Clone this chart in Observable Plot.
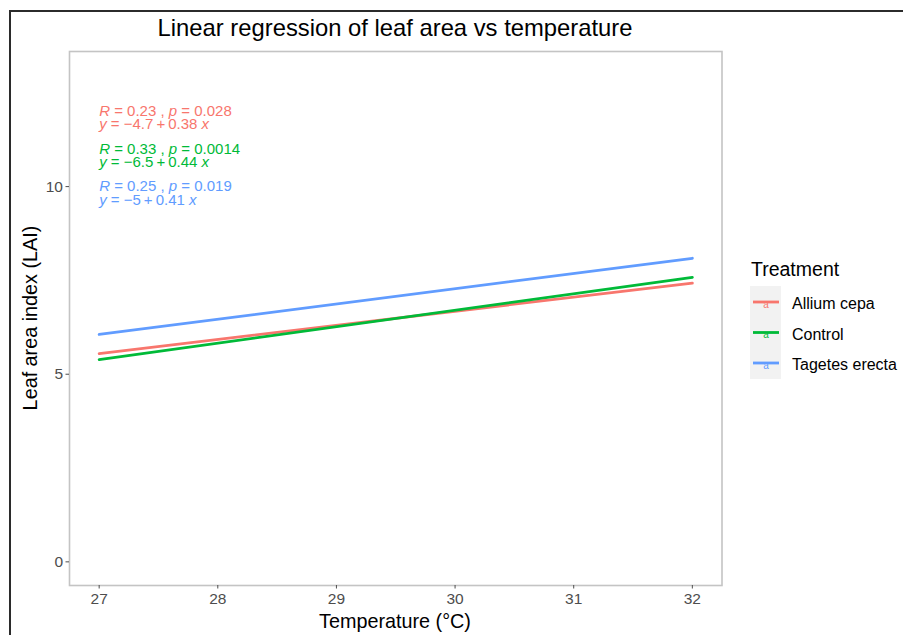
<!DOCTYPE html>
<html><head><meta charset="utf-8">
<script src="https://cdn.jsdelivr.net/npm/d3@7"></script>
<script src="https://cdn.jsdelivr.net/npm/@observablehq/plot@0.6"></script>
<style>
body{margin:0;background:#fff;font-family:"Liberation Sans",Arial,sans-serif;}
#wrap{position:relative;width:903px;height:635px;overflow:hidden;background:#fff;}
#outer{position:absolute;left:9px;top:10px;right:-10px;bottom:-10px;border-top:2px solid #2b2b2b;border-left:2px solid #2b2b2b;}
.t{position:absolute;white-space:nowrap;color:#000;line-height:1;}
#plot{position:absolute;left:0;top:0;}
</style></head><body>
<div id="wrap"><div id="outer"></div><div id="plot"></div></div>
<script>
// ---- data ----
const treatments = ["Allium cepa", "Control", "Tagetes erecta"];
const colors = ["#F8766D", "#00BA38", "#619CFF"];
const temperature = [27, 32];
const alliumLAI = [5.55, 7.43];
const controlLAI = [5.39, 7.58];
const tagetesLAI = [6.06, 8.09];
const xTicks = [27, 28, 29, 30, 31, 32];
const yTicks = [0, 5, 10];
const corLabels = ["R = 0.23 , p = 0.028", "R = 0.33 , p = 0.0014", "R = 0.25 , p = 0.019"];
const eqLabels = ["y = \u22124.7\u2009+\u20090.38 x", "y = \u22126.5\u2009+\u20090.44 x", "y = \u22125\u2009+\u20090.41 x"];
const labelX = 27;
const corLabelY = [12, 11, 10];
const eqLabelY = [11.65, 10.65, 9.65];
const titleText = "Linear regression of leaf area vs temperature";
const xTitle = "Temperature (\u00B0C)";
const yTitle = "Leaf area index (LAI)";
const legendTitle = "Treatment";

// ---- build tables ----
const series = [alliumLAI, controlLAI, tagetesLAI];
const lineData = treatments.flatMap((t, i) => temperature.map((x, j) => ({treatment: t, temperature: x, lai: series[i][j]})));
const annot = treatments.flatMap((t, i) => [
  {treatment: t, x: labelX, y: corLabelY[i], label: corLabels[i]},
  {treatment: t, x: labelX, y: eqLabelY[i], label: eqLabels[i]}
]);

const FONT = "'Liberation Sans', Arial, sans-serif";
const plot = Plot.plot({
  width: 903, height: 635,
  marginLeft: 69, marginTop: 51, marginRight: 181.5, marginBottom: 50,
  style: {background: "transparent", fontFamily: FONT, overflow: "visible"},
  x: {domain: [26.75, 32.25]},
  y: {domain: [-0.63, 13.6]},
  color: {domain: treatments, range: colors},
  marks: [
    Plot.frame({stroke: "#c4c4c4", strokeWidth: 1.6}),
    Plot.axisX({ticks: xTicks, tickFormat: d => String(d), tickSize: 3.5, tickPadding: 4, label: null, fontSize: 15.5, color: "#4d4d4d"}),
    Plot.axisY({ticks: yTicks, tickFormat: d => String(d), tickSize: 3.5, tickPadding: 3, label: null, fontSize: 15.5, color: "#4d4d4d"}),
    Plot.line(lineData, {x: "temperature", y: "lai", stroke: "treatment", z: "treatment", strokeWidth: 2.8}),
    Plot.text(annot, {x: "x", y: "y", text: "label", fill: "treatment", textAnchor: "start", fontSize: 15})
  ]
});
document.getElementById("plot").appendChild(plot);

// italic variable names in the annotation labels
plot.querySelectorAll('g[aria-label="text"] text').forEach(el => {
  const tokens = el.textContent.split(" ");
  el.textContent = "";
  el.style.whiteSpace = "pre";
  tokens.forEach((tok, k) => {
    const ts = document.createElementNS("http://www.w3.org/2000/svg", "tspan");
    ts.textContent = tok + (k < tokens.length - 1 ? " " : "");
    if (/^[Rpyx]$/.test(tok)) ts.setAttribute("font-style", "italic");
    el.appendChild(ts);
  });
});

// ---- titles ----
const wrap = document.getElementById("wrap");
function addText(txt, css) {
  const d = document.createElement("div");
  d.className = "t";
  d.textContent = txt;
  Object.assign(d.style, css);
  wrap.appendChild(d);
  return d;
}
addText(titleText, {left: "395px", top: "28px", fontSize: "23.8px", transform: "translate(-50%,-50%)"});
addText(xTitle, {left: "395px", top: "622px", fontSize: "19.8px", transform: "translate(-50%,-50%)"});
addText(yTitle, {left: "31px", top: "318px", fontSize: "19.8px", transform: "translate(-50%,-50%) rotate(-90deg)"});

// ---- legend ----
addText(legendTitle, {left: "751px", top: "270px", fontSize: "19.5px", transform: "translateY(-50%)"});
const ns = "http://www.w3.org/2000/svg";
const leg = document.createElementNS(ns, "svg");
leg.setAttribute("width", 40); leg.setAttribute("height", 100);
Object.assign(leg.style, {position: "absolute", left: "748px", top: "284px"});
const bg = document.createElementNS(ns, "rect");
bg.setAttribute("x", 2); bg.setAttribute("y", 2); bg.setAttribute("width", 31); bg.setAttribute("height", 93);
bg.setAttribute("fill", "#f2f2f2");
leg.appendChild(bg);
treatments.forEach((t, i) => {
  const cy = 18 + i * 30.5;
  const ln = document.createElementNS(ns, "line");
  ln.setAttribute("x1", 5); ln.setAttribute("x2", 31); ln.setAttribute("y1", cy); ln.setAttribute("y2", cy);
  ln.setAttribute("stroke", colors[i]); ln.setAttribute("stroke-width", 2.8);
  leg.appendChild(ln);
  const a = document.createElementNS(ns, "text");
  a.setAttribute("x", 18); a.setAttribute("y", cy + 5.5); a.setAttribute("text-anchor", "middle");
  a.setAttribute("font-size", 10); a.setAttribute("font-family", FONT); a.setAttribute("fill", colors[i]);
  a.textContent = "a";
  leg.appendChild(a);
  addText(t, {left: "792px", top: (286 + cy) + "px", fontSize: "16px", transform: "translateY(-50%)"});
});
wrap.appendChild(leg);
</script>
</body></html>
